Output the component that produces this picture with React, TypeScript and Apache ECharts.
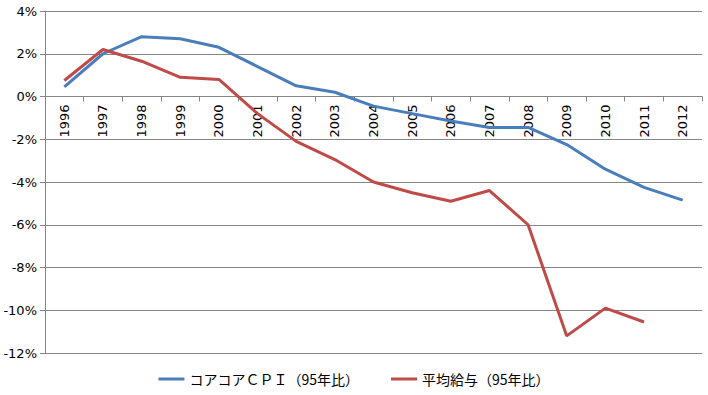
import React, { useEffect, useRef } from "react";
import * as echarts from "echarts";

const categories = ["1996","1997","1998","1999","2000","2001","2002","2003","2004","2005","2006","2007","2008","2009","2010","2011","2012"];
const coreCoreCPI = [0.45, 2.0, 2.8, 2.7, 2.3, 1.4, 0.5, 0.2, -0.45, -0.8, -1.15, -1.45, -1.45, -2.25, -3.4, -4.25, -4.85];
const avgWage = [0.75, 2.2, 1.65, 0.9, 0.8, -0.8, -2.1, -2.95, -4.0, -4.5, -4.9, -4.4, -6.0, -11.2, -9.9, -10.55, null];
const seriesNames = ["コアコアＣＰＩ（95年比）", "平均給与（95年比）"];
const colors = ["#4A7EBB", "#BE4B48"];
const yMin = -12;
const yMax = 4;

export default function App() {
  const ref = useRef<HTMLDivElement>(null);
  useEffect(() => {
    if (!ref.current) return;
    const chart = echarts.init(ref.current, null, { renderer: "svg" });
    const H = 395;
    const gridTop = 11;
    const gridBottom = 42;
    const plotH = H - gridTop - gridBottom;
    const zeroOffset = -plotH * (0 - yMin) / (yMax - yMin);
    chart.setOption({
      animation: false,
      color: colors,
      grid: { left: 45, right: 6, top: gridTop, bottom: gridBottom },
      legend: {
        bottom: 4,
        left: "center",
        icon: "rect",
        itemWidth: 26,
        itemHeight: 3,
        itemGap: 32,
        textStyle: { fontFamily: "Noto Sans CJK JP", fontSize: 14, color: "#000" },
        data: seriesNames.map((n) => ({ name: n, icon: "rect" })),
      },
      xAxis: {
        type: "category",
        data: categories,
        boundaryGap: true,
        position: "bottom",
        offset: zeroOffset,
        axisLine: { onZero: false, lineStyle: { color: "#868686" } },
        axisTick: { show: true, length: 5, lineStyle: { color: "#868686" } },
        axisLabel: { rotate: 90, fontSize: 13, color: "#000", fontFamily: "DejaVu Sans", margin: 8, interval: 0 },
      },
      yAxis: {
        type: "value",
        min: yMin,
        max: yMax,
        interval: 2,
        axisLine: { show: true, lineStyle: { color: "#868686" } },
        axisTick: { show: true, length: 5, lineStyle: { color: "#868686" } },
        axisLabel: { formatter: "{value}%", fontSize: 13, color: "#000", fontFamily: "DejaVu Sans", margin: 8 },
        splitLine: { show: true, lineStyle: { color: "#868686", width: 1 } },
      },
      series: [
        { name: seriesNames[0], type: "line", data: coreCoreCPI, showSymbol: false, symbol: "none", legendIcon: "rect", lineStyle: { width: 3, color: colors[0] }, itemStyle: { color: colors[0] } },
        { name: seriesNames[1], type: "line", data: avgWage, showSymbol: false, symbol: "none", legendIcon: "rect", lineStyle: { width: 3, color: colors[1] }, itemStyle: { color: colors[1] } },
      ],
    });
    return () => chart.dispose();
  }, []);
  return <div ref={ref} style={{ width: 708, height: 395, position: "absolute", left: 0, top: 0 }} />;
}
